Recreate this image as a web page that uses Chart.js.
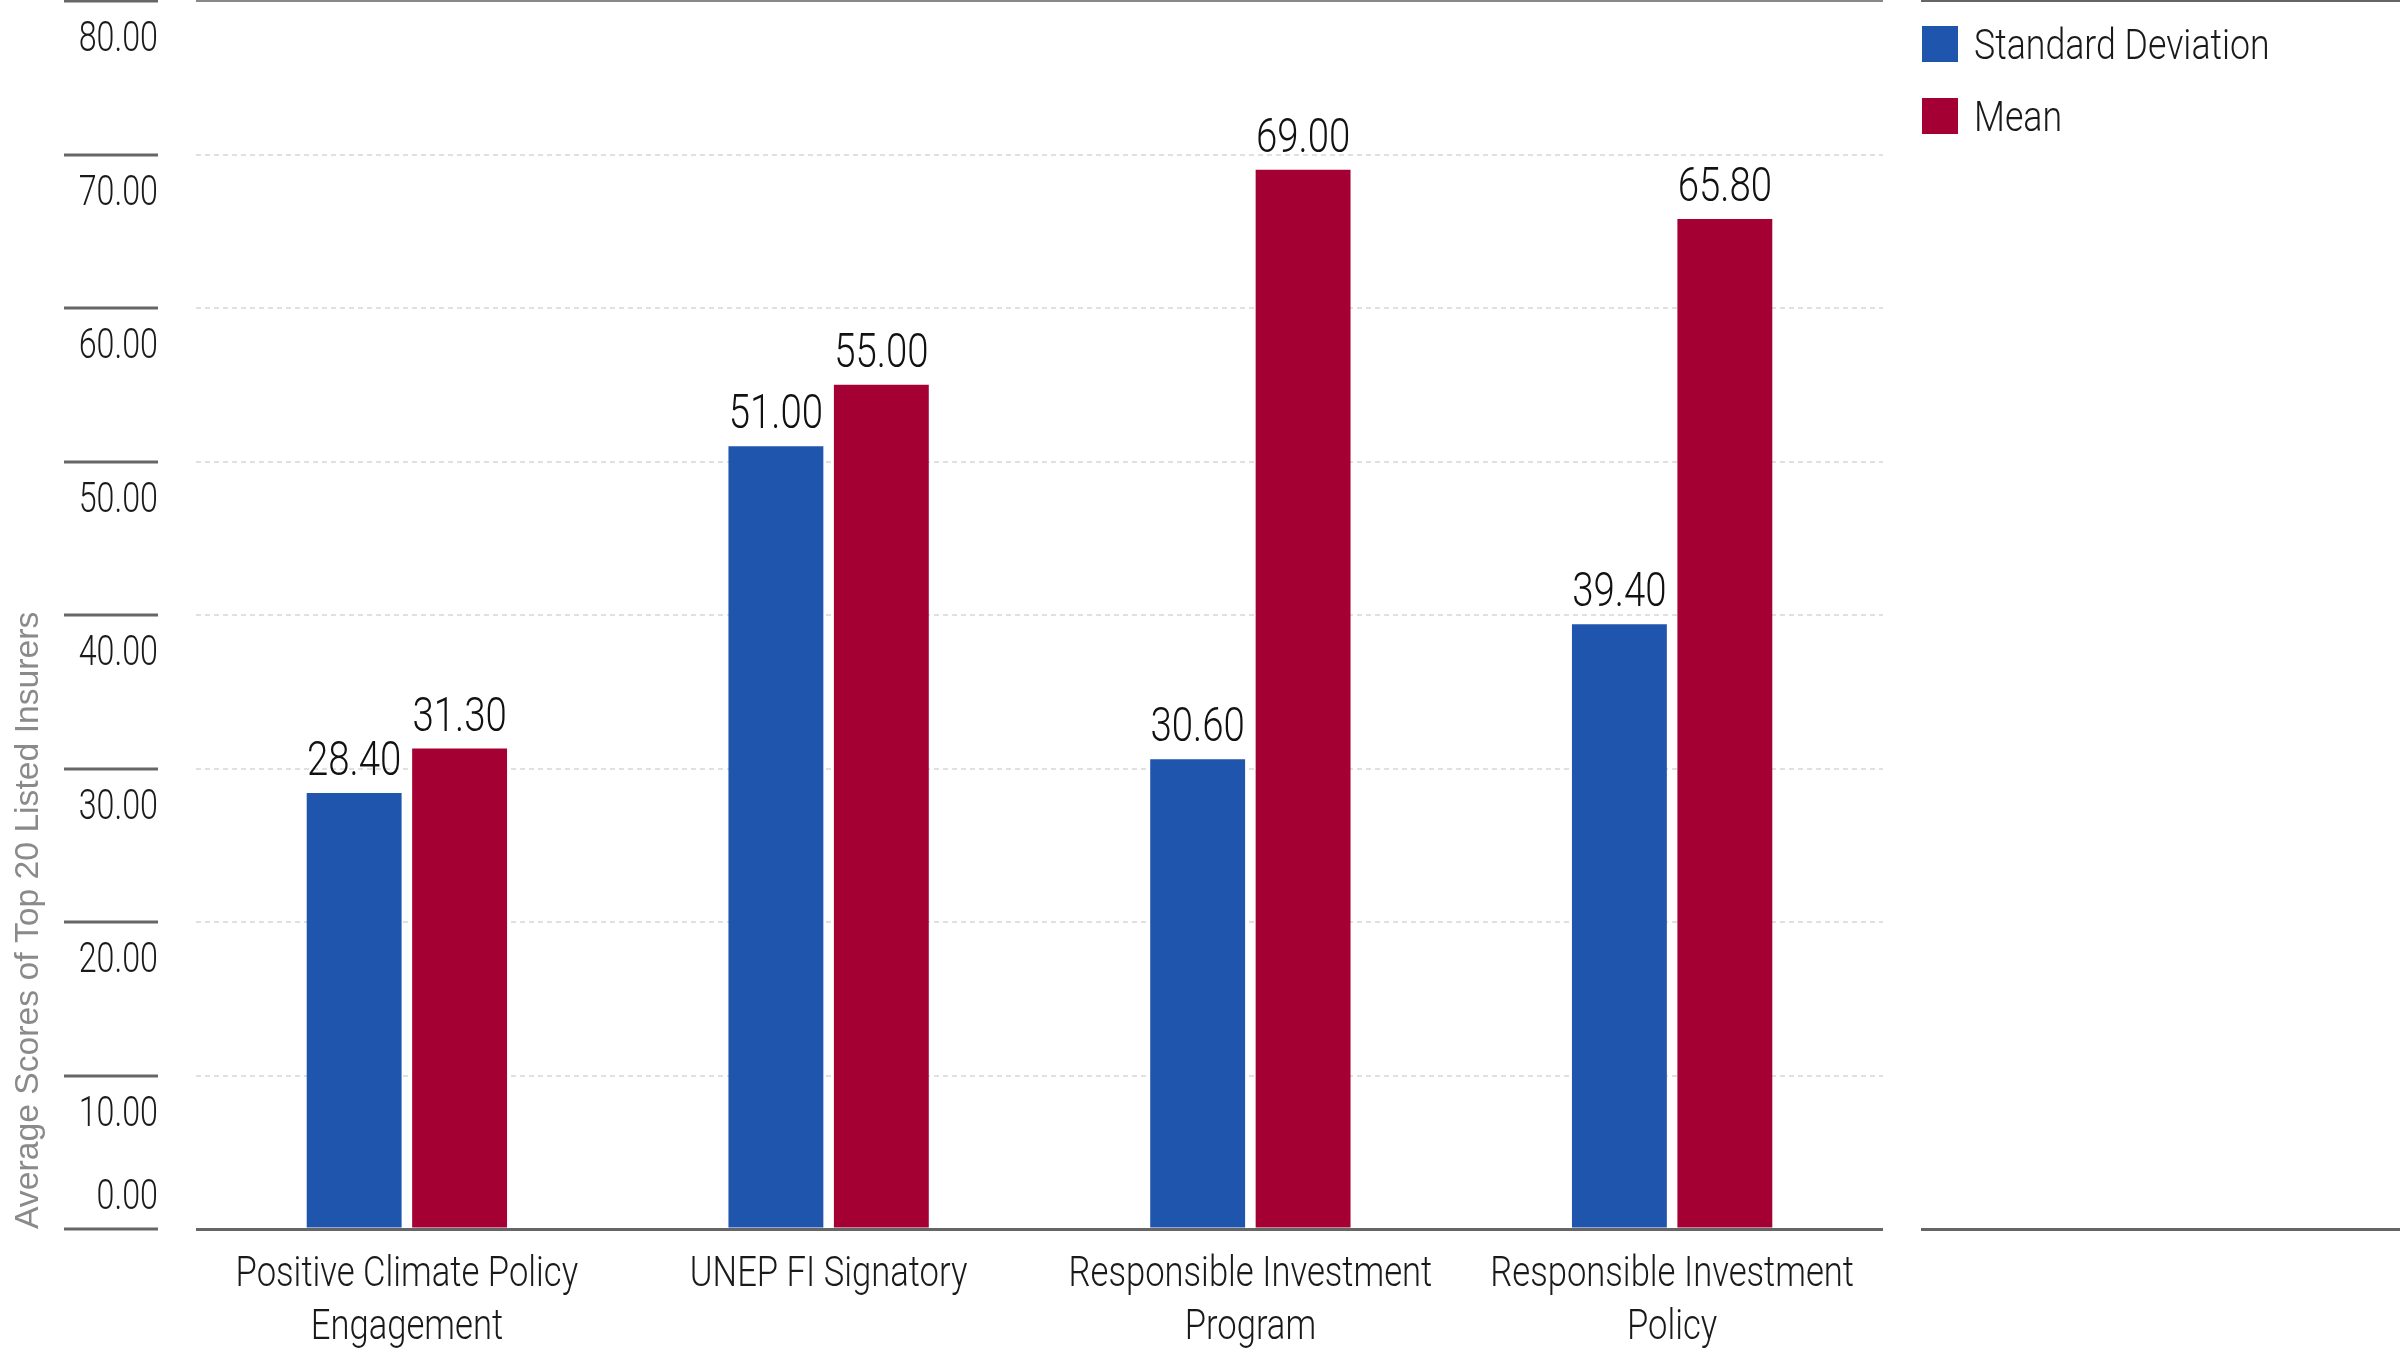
<!DOCTYPE html>
<html>
<head>
<meta charset="utf-8">
<script src="https://cdn.jsdelivr.net/npm/chart.js@4.4.1/dist/chart.umd.min.js"></script>
<style>
  html, body { margin: 0; padding: 0; background: #fff; }
  #wrap { position: relative; width: 2400px; height: 1350px; }
  #legend {
    position: absolute; left: 1921px; top: -1px; width: 479px; height: 1226px;
    border-top: 3px solid #666; border-bottom: 3px solid #666;
    font-family: Roboto, sans-serif; font-weight: 300; font-size: 43px; color: #1a1a1a;
  }
  .item { position: absolute; left: 1px; height: 36px; display: flex; align-items: center; white-space: nowrap; }
  .swatch { width: 36px; height: 36px; margin-right: 16px; flex: none; }
  .txt { display: inline-block; transform: scaleX(0.83); transform-origin: left center; }
</style>
</head>
<body>
<div id="wrap">
  <canvas id="chart" width="2400" height="1350"></canvas>
  <div id="legend"></div>
</div>
<script>
const categories = [
  ["Positive Climate Policy", "Engagement"],
  ["UNEP FI Signatory"],
  ["Responsible Investment", "Program"],
  ["Responsible Investment", "Policy"],
];
const stdDev = [28.4, 51.0, 30.6, 39.4];
const mean = [31.3, 55.0, 69.0, 65.8];
const yTicks = [0, 10, 20, 30, 40, 50, 60, 70, 80];
const seriesNames = ["Standard Deviation", "Mean"];
const seriesColors = ["#1f55ad", "#a50034"];

// the original uses a condensed face; squeeze Roboto horizontally instead
function narrowText(ctx, text, x, y, align, size, sx) {
  ctx.save();
  ctx.font = "300 " + size + "px Roboto, sans-serif";
  ctx.textAlign = align;
  ctx.textBaseline = "alphabetic";
  ctx.translate(x, y);
  ctx.scale(sx, 1);
  ctx.fillText(text, 0, 0);
  ctx.restore();
}

const yLabelPlugin = {
  id: "yLabels",
  afterDraw(chart) {
    const ctx = chart.ctx;
    const y = chart.scales.y;
    ctx.save();
    ctx.fillStyle = "#1a1a1a";
    yTicks.forEach((v) => {
      const py = Math.round(y.getPixelForValue(v));
      ctx.strokeStyle = "#666";
      ctx.lineWidth = 3;
      ctx.beginPath();
      ctx.moveTo(64, py);
      ctx.lineTo(158, py);
      ctx.stroke();
      const base = v === 0 ? py - 20 : py + 50;
      narrowText(ctx, v.toFixed(2), 158, base, "right", 43, 0.75);
    });
    ctx.restore();
  },
};

const xLabelPlugin = {
  id: "xLabels",
  afterDraw(chart) {
    const ctx = chart.ctx;
    const x = chart.scales.x;
    const bottom = chart.chartArea.bottom;
    ctx.save();
    ctx.fillStyle = "#1a1a1a";
    categories.forEach((lines, i) => {
      const px = x.getPixelForValue(i);
      lines.forEach((line, k) => {
        narrowText(ctx, line, px, bottom + 57 + k * 53, "center", 43, 0.805);
      });
    });
    ctx.restore();
  },
};

const valueLabelPlugin = {
  id: "valueLabels",
  afterDatasetsDraw(chart) {
    const ctx = chart.ctx;
    ctx.save();
    ctx.fillStyle = "#111";
    chart.data.datasets.forEach((ds, i) => {
      chart.getDatasetMeta(i).data.forEach((bar, j) => {
        narrowText(ctx, ds.data[j].toFixed(2), bar.x, bar.y - 18, "center", 48, 0.8);
      });
    });
    ctx.restore();
  },
};

const chart = new Chart(document.getElementById("chart"), {
  type: "bar",
  data: {
    labels: categories,
    datasets: [
      { label: seriesNames[0], data: stdDev, backgroundColor: seriesColors[0] },
      { label: seriesNames[1], data: mean, backgroundColor: seriesColors[1] },
    ],
  },
  options: {
    responsive: false,
    animation: false,
    devicePixelRatio: 1,
    categoryPercentage: 0.5,
    barPercentage: 0.9,
    layout: { padding: { top: 1, right: 517, left: 0, bottom: 0 } },
    plugins: {
      legend: { display: false },
      tooltip: { enabled: false },
    },
    scales: {
      x: {
        afterFit: (scale) => { scale.height = 121; },
        grid: { display: false, drawTicks: false },
        border: { display: false },
        ticks: { display: false },
      },
      y: {
        min: 0,
        max: 80,
        afterFit: (scale) => { scale.width = 196; },
        ticks: { display: false, stepSize: 10 },
        grid: {
          drawTicks: false,
          color: (c) => (c.tick && c.tick.value === 0 ? "#666" : c.tick && c.tick.value === 80 ? "#888" : "#e0e0e0"),
          lineWidth: (c) => (c.tick && c.tick.value === 0 ? 3 : 2),
        },
        border: {
          display: false,
          dash: (c) => (c.tick && (c.tick.value === 0 || c.tick.value === 80) ? [] : [5, 4]),
        },
        title: {
          display: true,
          text: "Average Scores of Top 20 Listed Insurers",
          align: "start",
          color: "#8a8a8a",
          font: { family: "'Liberation Sans', Arial, sans-serif", size: 33.7 },
          padding: { top: 8, bottom: 0 },
        },
      },
    },
  },
  plugins: [yLabelPlugin, xLabelPlugin, valueLabelPlugin],
});

// legend built from the chart's datasets
const legend = document.getElementById("legend");
chart.data.datasets.forEach((ds, i) => {
  const item = document.createElement("div");
  item.className = "item";
  item.style.top = 24 + i * 72 + "px";
  const sw = document.createElement("span");
  sw.className = "swatch";
  sw.style.background = ds.backgroundColor;
  const tx = document.createElement("span");
  tx.className = "txt";
  tx.textContent = ds.label;
  item.appendChild(sw);
  item.appendChild(tx);
  legend.appendChild(item);
});
</script>
</body>
</html>
